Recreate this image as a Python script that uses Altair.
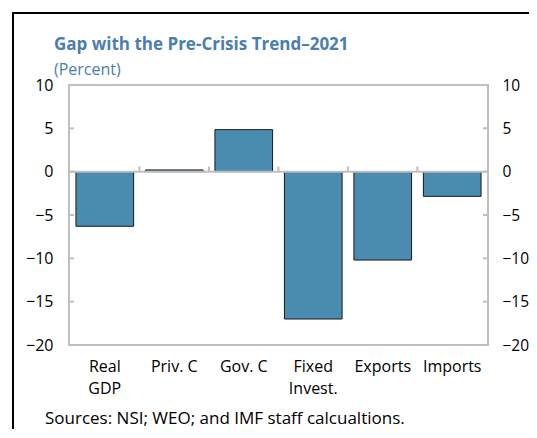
import altair as alt
import pandas as pd

categories = ["Real GDP", "Priv. C", "Gov. C", "Fixed Invest.", "Exports", "Imports"]
values = [-6.3, 0.2, 4.85, -17.0, -10.2, -2.85]
y_ticks = [-20, -15, -10, -5, 0, 5, 10]

FONT = "Open Sans"
W, H = 419, 260
GRAY = "#BFBFBF"
BLUE = "#4A7EB0"
FS = 16

df = pd.DataFrame({"cat": categories, "val": values})
ticks_df = pd.DataFrame({"v": y_ticks})
xt_df = pd.DataFrame({"cat": categories[1:]})
one = pd.DataFrame({"k": [0]})

yscale = alt.Scale(domain=[-20, 10], nice=False, zero=False)
xscale = alt.Scale(domain=categories, paddingInner=0.17, paddingOuter=0.1)

label_expr = ("datum.label == 'Real GDP' ? ['Real', 'GDP'] : "
              "datum.label == 'Fixed Invest.' ? ['Fixed', 'Invest.'] : datum.label")

x_axis = alt.Axis(labelAngle=0, ticks=False, domain=False, labelExpr=label_expr,
                  labelFont=FONT, labelFontSize=FS, labelColor="#000000",
                  labelPadding=13, labelLineHeight=22, title=None)

bars = alt.Chart(df).mark_bar(color="#4A8BB0", stroke="#1A1A1A", strokeWidth=1).encode(
    x=alt.X("cat:N", scale=xscale, sort=categories, title=None, axis=x_axis),
    y=alt.Y("val:Q", scale=yscale, title=None,
            axis=alt.Axis(values=y_ticks, ticks=False, domain=False, grid=False, orient="left",
                          labelFont=FONT, labelFontSize=FS, labelColor="#000000", labelPadding=16)),
)

right_axis = alt.Chart(ticks_df).mark_rule(opacity=0).encode(
    y=alt.Y("v:Q", scale=yscale, title=None,
            axis=alt.Axis(values=y_ticks, ticks=False, domain=False, grid=False, orient="right",
                          labelFont=FONT, labelFontSize=15.5, labelColor="#000000", labelPadding=14)),
)

left_ticks = alt.Chart(ticks_df).mark_rule(color=GRAY, strokeWidth=2).encode(
    y=alt.Y("v:Q", scale=yscale, axis=None), x=alt.value(0), x2=alt.value(5)
)
right_ticks = alt.Chart(ticks_df).mark_rule(color=GRAY, strokeWidth=2).encode(
    y=alt.Y("v:Q", scale=yscale, axis=None), x=alt.value(W - 5), x2=alt.value(W)
)

zero_line = alt.Chart(one).mark_rule(color=GRAY, strokeWidth=2).encode(
    y=alt.datum(0, scale=yscale, axis=None), x=alt.value(0), x2=alt.value(W)
)

x_ticks = alt.Chart(xt_df).mark_rule(color=GRAY, strokeWidth=2).encode(
    x=alt.X("cat:N", scale=xscale, sort=categories, bandPosition=0, title=None, axis=x_axis),
    xOffset=alt.value(-6),
    y=alt.datum(0, scale=yscale, axis=None), y2=alt.datum(0.6),
)

frame = alt.Chart(one).mark_rect(fill=None, stroke="#000000", strokeWidth=2).encode(
    x=alt.value(-56), x2=alt.value(700), y=alt.value(-72), y2=alt.value(700)
)

title = alt.Chart(one).mark_text(
    text="Gap with the Pre-Crisis Trend\u20132021", align="left", baseline="alphabetic",
    font=FONT, fontSize=17, fontWeight="bold", color=BLUE
).encode(x=alt.value(-15), y=alt.value(-35))

subtitle = alt.Chart(one).mark_text(
    text="(Percent)", align="left", baseline="alphabetic",
    font=FONT, fontSize=FS, color=BLUE
).encode(x=alt.value(-15), y=alt.value(-10))

source = alt.Chart(one).mark_text(
    text="Sources: NSI; WEO; and IMF staff calcualtions.", align="left", baseline="alphabetic",
    font=FONT, fontSize=17, color="#000000"
).encode(x=alt.value(-24), y=alt.value(339))

chart = alt.layer(
    bars, zero_line, x_ticks, left_ticks, right_ticks, right_axis, title, subtitle, source, frame
).resolve_scale(y="shared").resolve_axis(y="independent").properties(
    width=W, height=H,
    autosize=alt.AutoSizeParams(type="none"),
    padding={"left": 61, "top": 77, "right": 41, "bottom": 84},
).configure_view(stroke=GRAY, strokeWidth=2)

chart.save("out.html", embed_options={"renderer": "svg", "actions": False})
